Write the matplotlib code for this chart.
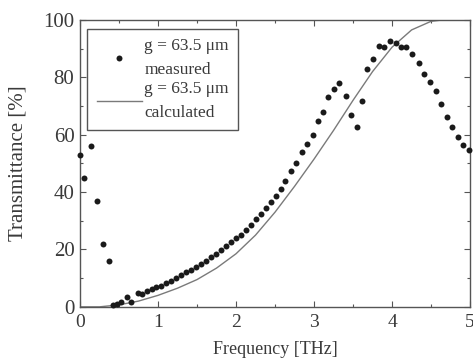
import matplotlib
matplotlib.use("Agg")
import matplotlib.pyplot as plt
from matplotlib.ticker import MultipleLocator

# measured data (THz, %)
meas_freq = [0.0, 0.05, 0.14, 0.22, 0.29, 0.37, 0.43, 0.47, 0.52, 0.60, 0.66, 0.74, 0.80,
             0.86, 0.92, 0.98, 1.04, 1.10, 1.17, 1.23, 1.30, 1.36, 1.42, 1.49, 1.55, 1.62,
             1.68, 1.74, 1.81, 1.87, 1.94, 2.00, 2.06, 2.13, 2.19, 2.26, 2.32, 2.38, 2.45,
             2.51, 2.57, 2.63, 2.70, 2.77, 2.84, 2.91, 2.98, 3.05, 3.11, 3.18, 3.26, 3.32,
             3.41, 3.47, 3.55, 3.62, 3.68, 3.76, 3.83, 3.90, 3.97, 4.05, 4.11, 4.18, 4.26,
             4.34, 4.41, 4.49, 4.56, 4.63, 4.70, 4.77, 4.84, 4.91, 4.98]
meas_T = [53, 45, 56, 37, 22, 16, 0.5, 1, 1.7, 3.6, 1.8, 5, 4.5,
          5.5, 6.2, 6.8, 7.3, 8.2, 9.1, 10, 11, 12, 13, 14, 15, 16,
          17.2, 18.3, 19.8, 21.2, 22.5, 24, 25.2, 26.8, 28.5, 30.5, 32.5, 34.5, 36.5,
          38.5, 41, 44, 47.5, 50, 53.8, 56.8, 60, 64.6, 68, 73, 75.8, 78,
          73.5, 67, 62.6, 71.9, 82.9, 86.3, 91, 90.7, 92.7, 92.1, 90.7, 90.7, 88.2,
          84.9, 81.2, 78.3, 75.3, 70.6, 66.1, 62.6, 59.3, 56.4, 54.5]

# calculated curve (THz, %)
calc_freq = [0.0, 0.25, 0.5, 0.75, 1.0, 1.25, 1.5, 1.75, 2.0, 2.25, 2.5, 2.75, 3.0,
             3.25, 3.5, 3.75, 4.0, 4.25, 4.5, 4.75, 5.0]
calc_T = [0.0, 0.0, 0.7, 2.0, 4.0, 6.5, 9.5, 13.5, 18.5, 25.0, 33.0, 42.0, 51.5,
          61.5, 72.0, 82.0, 90.5, 96.5, 99.5, 100.3, 100.3]

label_meas = "g = 63.5 μm\nmeasured"
label_calc = "g = 63.5 μm\ncalculated"

plt.rcParams['font.family'] = ['Liberation Serif', 'DejaVu Serif']
txt = '#3a3a3a'

fig = plt.figure(figsize=(4.73, 3.61), dpi=100)
ax = fig.add_axes([0.169, 0.150, 0.825, 0.795])

ax.plot(calc_freq, calc_T, color='#7a7a7a', lw=1.0, label=label_calc, zorder=2)
ax.plot(meas_freq, meas_T, 'o', color='#1a1a1a', ms=4.3, mec='none',
        label=label_meas, clip_on=False, zorder=3)

ax.set_xlim(0, 5)
ax.set_ylim(0, 100)
ax.xaxis.set_major_locator(MultipleLocator(1))
ax.xaxis.set_minor_locator(MultipleLocator(0.5))
ax.yaxis.set_major_locator(MultipleLocator(20))
ax.yaxis.set_minor_locator(MultipleLocator(10))
ax.tick_params(which='both', direction='in', top=True, right=True,
               colors='#555555', labelcolor=txt)
ax.tick_params(axis='y', labelsize=15, pad=4)
ax.tick_params(axis='x', labelsize=14, pad=5)
ax.tick_params(which='major', length=4, width=0.8)
ax.tick_params(which='minor', length=2.5, width=0.8)
for s in ax.spines.values():
    s.set_color('#555555')
    s.set_linewidth(1.0)

ax.set_xlabel('Frequency [THz]', fontsize=13, color=txt, labelpad=7)
ax.set_ylabel('Transmittance [%]', fontsize=15, color=txt, labelpad=11)

handles, labels = ax.get_legend_handles_labels()
leg = ax.legend(handles[::-1], labels[::-1], loc='upper left',
                bbox_to_anchor=(0.018, 0.969), fancybox=False, framealpha=1,
                edgecolor='#555555', fontsize=12.5, handlelength=2.6,
                handletextpad=0.15, borderpad=0.55, labelspacing=0.15,
                borderaxespad=0)
leg.get_frame().set_linewidth(1.0)
for t in leg.get_texts():
    t.set_color(txt)
    t.set_linespacing(1.65)

fig.savefig('out.png', dpi=100)
